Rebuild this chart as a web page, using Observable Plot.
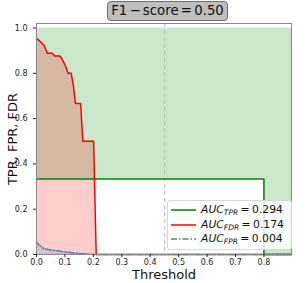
<!DOCTYPE html>
<html>
<head>
<meta charset="utf-8">
<script src="https://cdn.jsdelivr.net/npm/d3@7"></script>
<script src="https://cdn.jsdelivr.net/npm/@observablehq/plot@0.6"></script>
<style>
  body { margin: 0; background: #fff; font-family: "DejaVu Sans", sans-serif; }
  #wrap { position: relative; width: 307px; height: 283px; }
  #title { position: absolute; left: 107px; top: 1px; width: 119px; height: 18px;
    background: #bfbfbf; border: 1px solid #6e6e6e; border-radius: 4px;
    font-size: 13.3px; line-height: 18px; text-align: center; color: #111;
    white-space: nowrap; word-spacing: -2px; }
  #legend { position: absolute; left: 167px; top: 200px; width: 123px; height: 48px;
    background: rgba(255,255,255,0.82); border: 1px solid #d6d6d6; border-radius: 3px;
    font-size: 10.8px; color: #111; }
  .row { position: absolute; left: 0; height: 14px; line-height: 14px; white-space: nowrap; word-spacing: -1px; }
  .row svg { position: absolute; left: 3px; top: 1px; }
  .row span.t { position: absolute; left: 33px; top: 0; }
  sub { font-size: 7.5px; vertical-align: -2px; font-style: italic; }
</style>
</head>
<body>
<div id="wrap">
  <div id="plot"></div>
  <div id="title">F1 − score = 0.50</div>
  <div id="legend"></div>
</div>
<script>
// Data
const tprX = [0, 0.8, 0.8, 0.897];
const tprY = [0.333, 0.333, 0, 0];

const fdrX = [0, 0.005, 0.017, 0.026, 0.038, 0.055, 0.064, 0.082, 0.090, 0.102, 0.111, 0.122, 0.129, 0.137, 0.155, 0.163, 0.201, 0.210, 0.897];
const fdrY = [0.955, 0.950, 0.935, 0.925, 0.889, 0.889, 0.877, 0.877, 0.862, 0.833, 0.800, 0.800, 0.752, 0.667, 0.667, 0.500, 0.500, 0.0, 0.0];

const fprX = [0, 0.01, 0.026, 0.045, 0.061, 0.085, 0.108, 0.13, 0.155, 0.18, 0.2, 0.897];
const fprY = [0.054, 0.042, 0.025, 0.021, 0.018, 0.014, 0.010, 0.007, 0.004, 0.002, 0.0, 0.0];

const f1Threshold = 0.451;

const xTicks = [0, 0.1, 0.2, 0.3, 0.4, 0.5, 0.6, 0.7, 0.8];
const yTicks = [0, 0.2, 0.4, 0.6, 0.8, 1.0];

const legendLabels = [
  {name: "TPR", value: "0.294", color: "green", dash: null},
  {name: "FDR", value: "0.174", color: "red", dash: null},
  {name: "FPR", value: "0.004", color: "#4a7fbf", dash: "6,2,1.5,2"}
];

const tpr = tprX.map((x, i) => ({x, y: tprY[i]}));
const fdr = fdrX.map((x, i) => ({x, y: fdrY[i]}));
const fpr = fprX.map((x, i) => ({x, y: fprY[i]}));

const chart = Plot.plot({
  width: 307,
  height: 283,
  marginLeft: 36,
  marginRight: 16,
  marginTop: 23,
  marginBottom: 29,
  style: {fontFamily: "DejaVu Sans, sans-serif", background: "#fff"},
  x: {domain: [0, 0.897]},
  y: {domain: [0, 1.02]},
  marks: [
    Plot.areaY(tpr, {x: "x", y1: "y", y2: () => 1, fill: "green", fillOpacity: 0.2}),
    Plot.areaY(fdr, {x: "x", y1: () => 0, y2: "y", fill: "red", fillOpacity: 0.2}),
    Plot.areaY(fpr, {x: "x", y1: () => 0, y2: "y", fill: "#4a7fbf", fillOpacity: 0.2}),
    Plot.ruleX([f1Threshold], {stroke: "#b5b5b5", strokeWidth: 1, strokeDasharray: "4,3"}),
    Plot.line(tpr, {x: "x", y: "y", stroke: "green", strokeWidth: 1.5}),
    Plot.line(fdr, {x: "x", y: "y", stroke: "red", strokeWidth: 1.5}),
    Plot.line(fpr, {x: "x", y: "y", stroke: "#4a7fbf", strokeWidth: 1.5, strokeDasharray: "6,2,1.5,2"}),
    Plot.frame({stroke: "#8a8a8a", strokeWidth: 1}),
    Plot.axisX({ticks: xTicks, tickFormat: d3.format(".1f"), tickSize: 3, tickPadding: 2, fontSize: 8, label: null, color: "#222"}),
    Plot.axisY({ticks: yTicks, tickFormat: d3.format(".1f"), tickSize: 3, fontSize: 8, label: null, color: "#222"}),
    Plot.text(["TPR, FPR, FDR"], {frameAnchor: "left", dx: -24, rotate: -90, lineAnchor: "middle", textAnchor: "middle", fontSize: 13, fill: "#111"}),
    Plot.text(["Threshold"], {frameAnchor: "bottom", dy: 20, lineAnchor: "middle", textAnchor: "middle", fontSize: 13, fill: "#111"})
  ]
});
document.getElementById("plot").appendChild(chart);

const legend = document.getElementById("legend");
legendLabels.forEach((d, i) => {
  const row = document.createElement("div");
  row.className = "row";
  row.style.top = (2 + i * 14.5) + "px";
  row.style.width = "120px";
  row.innerHTML = `<svg width="26" height="12"><line x1="0" x2="25" y1="6" y2="6" stroke="${d.color}" stroke-width="1.5" ${d.dash ? `stroke-dasharray="${d.dash}"` : ""}/></svg>` +
    `<span class="t"><i>AUC</i><sub>${d.name}</sub> = ${d.value}</span>`;
  legend.appendChild(row);
});
</script>
</body>
</html>
